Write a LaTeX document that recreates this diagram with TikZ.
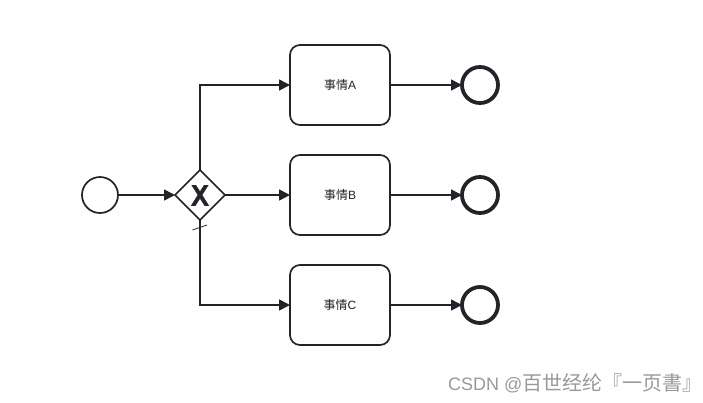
\documentclass[tikz,border=0pt]{standalone}
\usepackage{fontspec}
\setmainfont{Liberation Sans}
\newfontfamily\cjk{Noto Sans CJK SC}
\usetikzlibrary{arrows.meta,shapes.geometric,calc}
\definecolor{ink}{HTML}{22242A}
\tikzset{
  x=1pt,y=-1pt,
  flow/.style={draw=ink,line width=1.6pt,-{Triangle[length=11pt,width=11pt,fill=ink]}},
  startev/.style={circle,draw=ink,line width=1.7pt,minimum size=36pt,inner sep=0pt,outer sep=0pt,fill=white},
  endev/.style={circle,draw=ink,line width=3.8pt,minimum size=36pt,inner sep=0pt,outer sep=0pt,fill=white},
  gate/.style={diamond,draw=ink,line width=1.7pt,minimum size=50pt,inner sep=0pt,outer sep=0pt,fill=white},
  taskbox/.style={rectangle,rounded corners=10pt,draw=ink,line width=1.7pt,minimum width=100pt,minimum height=80pt,inner sep=0pt,outer sep=0pt,fill=white,font=\fontsize{12}{14}\selectfont,text=ink},
  wm/.style={inner sep=0pt,anchor=base west,text=black!40,font=\fontsize{18}{20}\selectfont}
}
\begin{document}
\begin{tikzpicture}
\useasboundingbox (0,0) rectangle (703,402);
\fill[white] (0,0) rectangle (703,402);
\node[startev] (s) at (100,195) {};
\node[gate] (g) at (200,195) {};
\node[taskbox] (a) at (340,85) {{\cjk 事情}A};
\node[taskbox] (b) at (340,195) {{\cjk 事情}B};
\node[taskbox] (c) at (340,305) {{\cjk 事情}C};
\node[endev] (ea) at (480,85) {};
\node[endev] (eb) at (480,195) {};
\node[endev] (ec) at (480,305) {};
\draw[flow] (s) -- (g);
\draw[flow] (g.north) |- (a.west);
\draw[flow] (g.east) -- (b.west);
\draw[flow] (g.south) |- (c.west);
\draw[flow] (a) -- (ea);
\draw[flow] (b) -- (eb);
\draw[flow] (c) -- (ec);
\begin{scope}
\clip (191,185) rectangle (209,205);
\draw[ink,line width=3.9pt] (190.5,180) -- (209.5,210) (209.5,180) -- (190.5,210);
\end{scope}
\draw[ink,line width=.8pt] ($(g.south)+(-7.5,10)$) -- ($(g.south)+(7,5)$);
\node[wm] (w) at (448,390) {CSDN @{\cjk\fontsize{20}{22}\selectfont 百世经纶『一页書』}};
\end{tikzpicture}
\end{document}
